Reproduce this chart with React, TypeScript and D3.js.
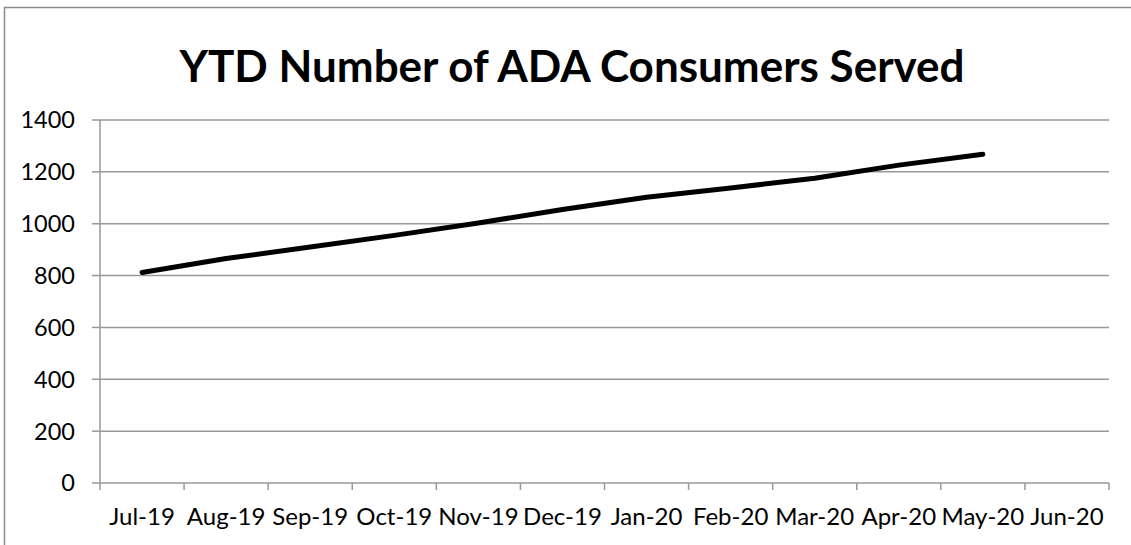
import React from "react";
import * as d3 from "d3";

const months = ["Jul-19","Aug-19","Sep-19","Oct-19","Nov-19","Dec-19","Jan-20","Feb-20","Mar-20","Apr-20","May-20","Jun-20"];
const served = [812, 866, 910, 955, 1003, 1055, 1102, 1138, 1175, 1226, 1268];
const yTicks = [0, 200, 400, 600, 800, 1000, 1200, 1400];
const title = "YTD Number of ADA Consumers Served";

const W = 1131, H = 545;
const left = 100, right = 1109, top = 120, bottom = 483;
const font = "Lato, 'Open Sans', sans-serif";

export default function App() {
  const x = d3.scaleBand().domain(months).range([left, right]).padding(0);
  const y = d3.scaleLinear().domain([0, 1400]).range([bottom, top]);
  const line = d3.line<number>()
    .x((_, i) => (x(months[i]) as number) + x.bandwidth() / 2)
    .y((d) => y(d));
  const grid = "#989898";
  return (
    <svg width={W} height={H} style={{ position: "absolute", left: 0, top: 0, background: "#fff" }}>
      <rect x={0} y={0} width={W} height={H} fill="#fff" />
      <rect x={4.5} y={7.5} width={1150} height={600} fill="none" stroke="#8a8a8a" strokeWidth={1.5} />
      <text x={572} y={82} textAnchor="middle" fontFamily={font} fontWeight={700} fontSize={44} fill="#000">{title}</text>
      {yTicks.map((t) => (
        <g key={t}>
          {t > 0 && <line x1={left} x2={right} y1={y(t)} y2={y(t)} stroke={grid} strokeWidth={1.5} />}
          <line x1={left - 8} x2={left} y1={y(t)} y2={y(t)} stroke={grid} strokeWidth={1.5} />
          <text x={75} y={y(t)} dy="0.36em" textAnchor="end" fontFamily={font} fontSize={23.5} fill="#000">{t}</text>
        </g>
      ))}
      <line x1={left} x2={left} y1={top} y2={bottom} stroke={grid} strokeWidth={1.5} />
      <line x1={left} x2={right} y1={bottom} y2={bottom} stroke={grid} strokeWidth={1.5} />
      {months.map((m) => (
        <line key={"t" + m} x1={x(m) as number} x2={x(m) as number} y1={bottom} y2={bottom + 7} stroke={grid} strokeWidth={1.5} />
      ))}
      <line x1={right} x2={right} y1={bottom} y2={bottom + 7} stroke={grid} strokeWidth={1.5} />
      {months.map((m) => (
        <text key={"l" + m} x={(x(m) as number) + x.bandwidth() / 2} y={525} textAnchor="middle" fontFamily={font} fontSize={24} fill="#000">{m}</text>
      ))}
      <path d={line(served) || ""} fill="none" stroke="#000" strokeWidth={5} strokeLinecap="round" strokeLinejoin="round" />
    </svg>
  );
}
